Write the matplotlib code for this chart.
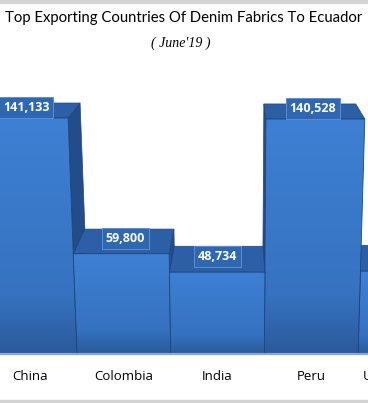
import numpy as np
import matplotlib.pyplot as plt
from matplotlib.patches import Polygon, Rectangle
from matplotlib.colors import LinearSegmentedColormap

countries = ["China", "Colombia", "India", "Peru", "United States"]
values = [141133, 59800, 48734, 140528, 49300]
value_labels = ["141,133", "59,800", "48,734", "140,528", "49,300"]

# 3d look: vanishing point (data units), depth factor and slight keystone
VX, VY = 2.208, 267600
DEPTH = 0.071
KEY = 0.056 / 141133

FRONT_TOP = "#3e80d4"
FRONT_MID = "#3672c0"
FRONT_BOT = "#2b5a9a"
TOP_C = "#2c5fa5"
SIDE_C = "#224c8a"
EDGE_C = "#1d4580"


def keystone(x, y):
    return (VX + (x - VX) * (1 + KEY * y), y)


def to_back(p):
    return (VX + (p[0] - VX) * (1 - DEPTH), VY + (p[1] - VY) * (1 - DEPTH))


fig = plt.figure(figsize=(3.68, 4.03), dpi=100)
ax = fig.add_axes([0, 0, 1, 1])
ax.axis("off")

cmap = LinearSegmentedColormap.from_list(
    "front", [(0, FRONT_BOT), (0.25, FRONT_MID), (1, FRONT_TOP)])
grad = np.linspace(0, 1, 256).reshape(-1, 1)

order = sorted(range(len(values)), key=lambda i: -abs(i - VX))
for z, i in enumerate(order):
    v = values[i]
    fbl = keystone(i - 0.5, 0)
    fbr = keystone(i + 0.5, 0)
    ftr = keystone(i + 0.5, v)
    ftl = keystone(i - 0.5, v)
    btl, btr = to_back(ftl), to_back(ftr)
    bbl, bbr = to_back(fbl), to_back(fbr)
    zb = z * 4
    # side face
    if i + 0.5 < VX:
        side = [ftr, btr, bbr, fbr]
    elif i - 0.5 > VX:
        side = [ftl, btl, bbl, fbl]
    else:
        side = None
    if side:
        ax.add_patch(Polygon(side, closed=True, facecolor=SIDE_C,
                             edgecolor=EDGE_C, lw=0.5, zorder=zb))
    ax.add_patch(Polygon([ftl, ftr, btr, btl], closed=True, facecolor=TOP_C,
                         edgecolor=EDGE_C, lw=0.5, zorder=zb + 1))
    front = Polygon([fbl, fbr, ftr, ftl], closed=True, facecolor="none",
                    edgecolor=EDGE_C, lw=0.6, zorder=zb + 3)
    ax.add_patch(front)
    im = ax.imshow(grad, extent=(min(fbl[0], ftl[0]), max(fbr[0], ftr[0]), 0, v),
                   origin="lower", cmap=cmap, aspect="auto", zorder=zb + 2)
    im.set_clip_path(front)
    # value label on the top face
    cx = (ftl[0] + ftr[0] + btl[0] + btr[0]) / 4
    cy = (ftl[1] + btl[1]) / 2
    ax.annotate(value_labels[i], (cx, cy), xytext=(0, 2), textcoords="offset points",
                ha="center", va="center", color="white", fontsize=9,
                fontweight="bold", family="Open Sans", zorder=100,
                bbox=dict(boxstyle="square,pad=0.3", fc="#2f68b2", ec="#5b8fd0", lw=0.7))
    ax.text(i, 1 - 377 / 403, countries[i], transform=ax.get_xaxis_transform(),
            ha="center", va="center", fontsize=9.5, family="Open Sans", color="black")

ax.axhline(0, color="#86a9d8", lw=1.6, zorder=200)

ax.set_xlim(-0.3224, 3.606)
ax.set_ylim(-49.5 * 599.3, 353.5 * 599.3)

fig.text(0.4986, 1 - 18 / 403, "Top Exporting Countries Of Denim Fabrics To Ecuador",
         ha="center", va="center", fontsize=10.7, family="Lato", color="black")
fig.text(0.49, 1 - 43 / 403, "( June'19 )", ha="center", va="center", fontsize=10,
         family="Liberation Serif", style="italic", color="black")

fig.patches.append(Rectangle((0, 1 - 3 / 403), 1, 3 / 403, transform=fig.transFigure,
                             color="#d3d3d3", zorder=0))
fig.patches.append(Rectangle((0, 0), 1, 3 / 403, transform=fig.transFigure,
                             color="#d3d3d3", zorder=0))

fig.savefig("out.png", dpi=100)
